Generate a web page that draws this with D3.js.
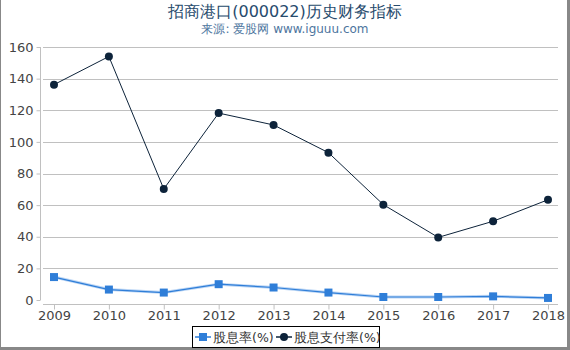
<!DOCTYPE html>
<html><head><meta charset="utf-8">
<script src="https://cdn.jsdelivr.net/npm/d3@7"></script>
<style>body{margin:0;background:#fff}svg{display:block;font-family:"DejaVu Sans",sans-serif}</style>
</head><body>
<svg id="c" width="570" height="350"></svg>
<script>
const years = ["2009","2010","2011","2012","2013","2014","2015","2016","2017","2018"];
const yieldVals = [14.5, 6.6, 4.7, 10.0, 7.9, 4.7, 1.9, 1.9, 2.3, 1.3];
const payoutVals = [136.2, 154.0, 70.2, 118.2, 110.7, 93.2, 60.3, 39.6, 49.8, 63.4];
const yTicks = [0, 20, 40, 60, 80, 100, 120, 140, 160];
const seriesNames = ["股息率(%)", "股息支付率(%)"];
const titleText = "招商港口(000022)历史财务指标";
const subtitleText = "来源: 爱股网 www.iguuu.com";

const svg = d3.select("#c");
const x = d3.scalePoint().domain(years).range([54, 548]);
const y = d3.scaleLinear().domain([0, 160]).range([300, 47]);

// frame
svg.append("rect").attr("x",0).attr("y",0).attr("width",1).attr("height",350).attr("fill","#888");
svg.append("rect").attr("x",567).attr("y",0).attr("width",3).attr("height",350).attr("fill","#888");
svg.append("rect").attr("x",0).attr("y",347).attr("width",570).attr("height",3).attr("fill","#888");

// title
svg.append("text").attr("x",285).attr("y",17).attr("text-anchor","middle")
  .attr("font-size",16).attr("fill","#274b6d").text(titleText);
svg.append("text").attr("x",285).attr("y",33).attr("text-anchor","middle")
  .attr("font-size",12).attr("fill","#4d759e").text(subtitleText);

// grid
svg.append("g").selectAll("line").data(yTicks.filter(d=>d>0)).join("line")
  .attr("x1",43).attr("x2",558).attr("y1",d=>Math.round(y(d))+0.5).attr("y2",d=>Math.round(y(d))+0.5)
  .attr("stroke","#c0c0c0").attr("stroke-width",1);

// y axis
const ya = svg.append("g").attr("transform","translate(40.5,0)")
  .call(d3.axisLeft(y).tickValues(yTicks).tickSize(4).tickSizeOuter(0).tickPadding(3));
ya.select(".domain").attr("stroke","#c0c0c0");
ya.selectAll(".tick line").attr("stroke","#c0c0c0");
ya.selectAll("text").attr("font-size",13).attr("fill","#444").attr("font-family","DejaVu Sans");
ya.select(".domain").attr("d","M0,47V300");

// x axis
const xa = svg.append("g").attr("transform","translate(0,304.5)")
  .call(d3.axisBottom(x).tickSize(5).tickSizeOuter(0).tickPadding(1));
xa.select(".domain").attr("stroke","#c0c0c0").attr("d","M43,0H558");
xa.selectAll(".tick line").attr("stroke","#c0c0c0");
xa.selectAll("text").attr("font-size",13).attr("fill","#444").attr("font-family","DejaVu Sans");

// lines
const line = d3.line().x((d,i)=>x(years[i])).y(d=>y(d));
svg.append("path").datum(yieldVals).attr("d",line).attr("fill","none")
  .attr("stroke","#bcd6f5").attr("stroke-width",3);
svg.append("path").datum(yieldVals).attr("d",line).attr("fill","none")
  .attr("stroke","#2f7ed8").attr("stroke-width",1.2);
svg.append("path").datum(payoutVals).attr("d",line).attr("fill","none")
  .attr("stroke","#0d233a").attr("stroke-width",1);

svg.append("g").selectAll("rect").data(yieldVals).join("rect")
  .attr("x",(d,i)=>x(years[i])-4).attr("y",d=>y(d)-4).attr("width",8).attr("height",8)
  .attr("fill","#2f7ed8");
svg.append("g").selectAll("circle").data(payoutVals).join("circle")
  .attr("cx",(d,i)=>x(years[i])).attr("cy",d=>y(d)).attr("r",4)
  .attr("fill","#0d233a");

// legend
const lg = svg.append("g");
lg.append("rect").attr("x",192.5).attr("y",326.5).attr("width",187).attr("height",21)
  .attr("fill","#fff").attr("stroke","#000").attr("stroke-width",1);
lg.append("line").attr("x1",195).attr("x2",211).attr("y1",337).attr("y2",337).attr("stroke","#2f7ed8").attr("stroke-width",1.5);
lg.append("rect").attr("x",199).attr("y",333).attr("width",8).attr("height",8).attr("fill","#2f7ed8");
lg.append("text").attr("x",213).attr("y",342).attr("font-size",12.5).attr("fill","#333").text(seriesNames[0]);
lg.append("line").attr("x1",276).attr("x2",292).attr("y1",337).attr("y2",337).attr("stroke","#0d233a").attr("stroke-width",1.5);
lg.append("circle").attr("cx",284).attr("cy",337).attr("r",4).attr("fill","#0d233a");
lg.append("text").attr("x",294).attr("y",342).attr("font-size",12.5).attr("fill","#333").text(seriesNames[1]);
</script>
</body></html>
